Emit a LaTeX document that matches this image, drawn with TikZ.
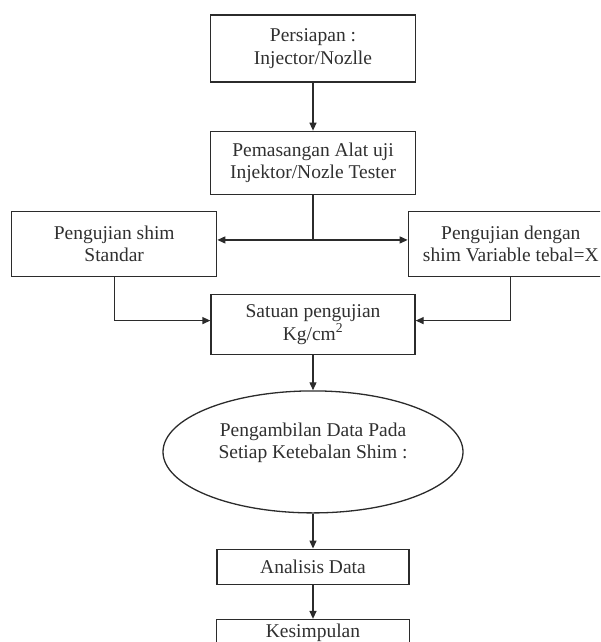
\documentclass[tikz,border=0pt]{standalone}
\usepackage{fontspec}
\setmainfont{Liberation Serif}
\usepackage{xcolor}
\usetikzlibrary{arrows.meta,positioning,shapes.geometric}
\definecolor{lineblack}{HTML}{2B2B2B}
\definecolor{textblack}{HTML}{303030}

\begin{document}
\begin{tikzpicture}[
  node distance=35pt,
  box/.style={draw=lineblack, line width=1.3pt, align=center, minimum width=205pt, minimum height=63pt, inner sep=2pt, text=textblack, font=\fontsize{19.5}{22.5}\selectfont},
  oval/.style={box, ellipse, minimum width=300pt, minimum height=122pt, inner sep=0pt},
  link/.style={line width=1.3pt, draw=lineblack},
  arr/.style={link, -{Triangle[length=8pt,width=7pt]}}
]
\clip (0,0) rectangle (600pt,-642pt);
\node[box, minimum height=67pt] (prep) at (313pt,-48.5pt) {Persiapan :\\Injector/Nozlle};
\node[box, below=48pt of prep] (mount) {Pemasangan Alat uji\\Injektor/Nozle Tester};
\node[box, minimum width=204pt, minimum height=60pt, below=99pt of mount] (unit) {Satuan pengujian\\Kg/cm\textsuperscript{2}};
\node[box, minimum height=65pt, above left=17pt and -7pt of unit] (std) {Pengujian shim\\Standar};
\node[box, minimum height=65pt, above right=17pt and -8pt of unit] (var) {Pengujian dengan\\shim Variable tebal=X};
\node[oval, below=35pt of unit] (data) {Pengambilan Data Pada\\Setiap Ketebalan Shim :\\\mbox{}};
\node[box, minimum width=192pt, minimum height=35pt, below=35pt of data] (anal) {Analisis Data};
\node[box, minimum width=193pt, minimum height=33pt, text height=14pt, text depth=12pt, below=34pt of anal] (concl) {Kesimpulan};
\coordinate (split) at ([yshift=-45pt]mount.south);
% garis penghubung
\draw[arr] (prep) -- (mount);
\draw[link] (mount) -- (split);
\draw[arr] (split) -- (split -| std.east);
\draw[arr] (split) -- (split -| var.west);
\draw[arr] (std) |- ([yshift=4pt]unit.west);
\draw[arr] (var) |- ([yshift=4pt]unit.east);
\draw[arr] (unit) -- (data);
\draw[arr] (data) -- (anal);
\draw[arr] (anal) -- (concl);
\end{tikzpicture}
\end{document}
